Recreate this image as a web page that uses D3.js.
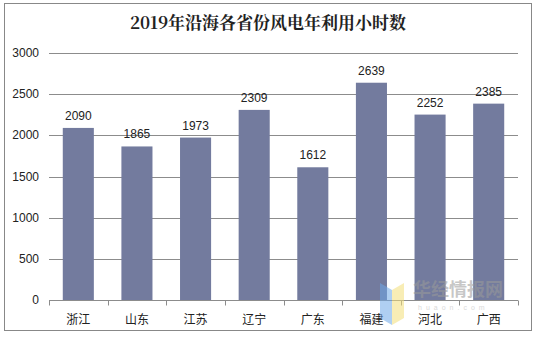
<!DOCTYPE html>
<html><head><meta charset="utf-8">
<script src="https://cdn.jsdelivr.net/npm/d3@7"></script>
<style>body{margin:0;background:#fff}svg{display:block}</style>
</head><body>
<script>
const categories = ["浙江","山东","江苏","辽宁","广东","福建","河北","广西"];
const values = [2090,1865,1973,2309,1612,2639,2252,2385];
const yTicks = [0,500,1000,1500,2000,2500,3000];
const title = "2019年沿海各省份风电年利用小时数";

const W = 536, H = 337;
const svg = d3.select("body").append("svg").attr("width", W).attr("height", H);
svg.append("rect").attr("x",4.5).attr("y",3.5).attr("width",527).attr("height",327)
  .attr("fill","#fff").attr("stroke","#888").attr("stroke-width",1);

const m = {left:49, right:518, top:53, bottom:300};
const x = d3.scaleBand().domain(categories).range([m.left, m.right]).paddingInner(0.47).paddingOuter(0.235);
const xb = d3.scaleBand().domain(categories).range([m.left, m.right]);
const y = d3.scaleLinear().domain([0,3000]).range([m.bottom, m.top]);

svg.append("text").attr("x",268).attr("y",29).attr("text-anchor","middle")
  .attr("font-family","'Noto Serif CJK SC','Noto Sans CJK SC',serif").attr("font-weight","bold")
  .attr("font-size",17).attr("fill","#222").text(title);

// gridlines
svg.append("g").selectAll("line").data(yTicks.filter(d=>d>0)).join("line")
  .attr("x1",m.left).attr("x2",m.right)
  .attr("y1",d=>Math.round(y(d))+0.5).attr("y2",d=>Math.round(y(d))+0.5)
  .attr("stroke","#8c8c8c").attr("stroke-width",1);

// y labels
svg.append("g").selectAll("text").data(yTicks).join("text")
  .attr("x",39).attr("y",d=>y(d)+4).attr("text-anchor","end")
  .attr("font-family","'Liberation Sans',Arial,sans-serif").attr("font-size",12).attr("fill","#222")
  .text(d=>d);

// bars
svg.append("g").selectAll("rect").data(values).join("rect")
  .attr("x",(d,i)=>x(categories[i])).attr("width",x.bandwidth())
  .attr("y",d=>y(d)).attr("height",d=>y(0)-y(d)).attr("fill","#737b9e");

// value labels
svg.append("g").selectAll("text").data(values).join("text")
  .attr("x",(d,i)=>x(categories[i])+x.bandwidth()/2).attr("y",d=>y(d)-8)
  .attr("text-anchor","middle").attr("font-family","'Liberation Sans',Arial,sans-serif")
  .attr("font-size",12).attr("fill","#222").text(d=>d);

// x axis
const gx = svg.append("g").attr("transform",`translate(0,${m.bottom+0.5})`);
gx.append("line").attr("x1",m.left).attr("x2",m.right).attr("stroke","#8c8c8c");
const bounds = categories.map(c=>xb(c)).concat([m.right]);
gx.selectAll("line.tk").data(bounds).join("line").attr("class","tk")
  .attr("x1",d=>Math.round(d)+0.5).attr("x2",d=>Math.round(d)+0.5).attr("y1",0).attr("y2",5)
  .attr("stroke","#8c8c8c");
gx.selectAll("text").data(categories).join("text")
  .attr("x",d=>xb(d)+xb.bandwidth()/2).attr("y",23).attr("text-anchor","middle")
  .attr("font-family","'Noto Sans CJK SC',sans-serif").attr("font-size",12).attr("fill","#222")
  .text(d=>d);

// watermark
const wm = svg.append("g").attr("opacity",0.55);
wm.append("path").attr("d","M380,283 L392,290 L392,325 L380,318 Z").attr("fill","#6fa8e8");
wm.append("path").attr("d","M404,283 L392,290 L392,325 L404,318 Z").attr("fill","#f3df7a");
wm.append("text").attr("x",413).attr("y",296).attr("font-family","'Noto Sans CJK SC',sans-serif")
  .attr("font-size",18).attr("font-weight","bold").attr("fill","#9a9a9a").text("华经情报网");
wm.append("text").attr("x",418).attr("y",310).attr("font-family","'Liberation Sans',sans-serif")
  .attr("font-size",7).attr("fill","#bbb").attr("letter-spacing",4).text("huaon.com");
</script>
</body></html>
